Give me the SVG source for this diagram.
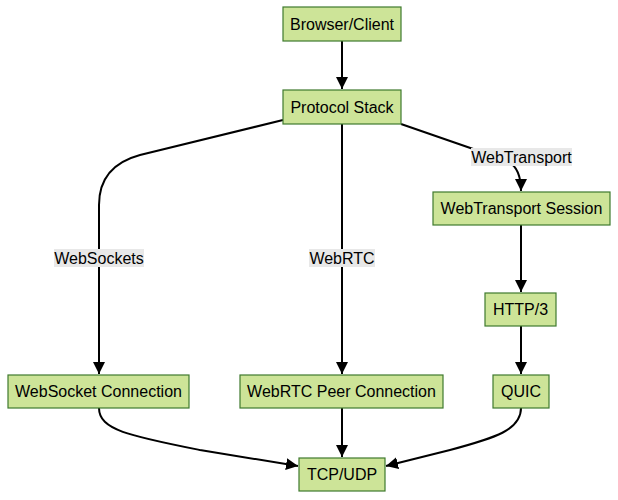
<svg xmlns="http://www.w3.org/2000/svg" width="618" height="500" viewBox="0 0 618 500">
<defs>
<marker id="arr" viewBox="0 0 10 10" refX="10" refY="5" markerWidth="12" markerHeight="12" markerUnits="userSpaceOnUse" orient="auto">
<path d="M0,0 L10,5 L0,10 z" fill="#000"/>
</marker>
<style>
.node rect{fill:#cde498;stroke:#3f7a2e;stroke-width:1.2}
.node text{font-family:"Liberation Sans",Arial,sans-serif;font-size:16px;fill:#000;text-anchor:middle;dominant-baseline:central}
.edge{fill:none;stroke:#000;stroke-width:2;marker-end:url(#arr)}
.lbl rect{fill:#e8e8e8}
.lbl text{font-family:"Liberation Sans",Arial,sans-serif;font-size:16px;fill:#000;text-anchor:middle;dominant-baseline:central}
</style>
</defs>
<rect width="618" height="500" fill="#fff"/>
<g id="connectors">
<path class="edge" d="M342,41 L342,89"/>
<path class="edge" d="M283,120 L140,155 Q99,166 99,205 L99,374"/>
<path class="edge" d="M342,124 L342,374"/>
<path class="edge" d="M401,124 L505,160 Q521,166 521,191"/>
<path class="edge" d="M521,225 L521,292"/>
<path class="edge" d="M521,326 L521,374"/>
<path class="edge" d="M99,408 C99,430 130,436 200,450 L298,466"/>
<path class="edge" d="M342,408 L342,457"/>
<path class="edge" d="M521,408 C521,430 495,438 450,450 L386,466"/>
<g class="lbl"><rect x="471" y="148" width="101" height="18"/><text x="521.5" y="157">WebTransport</text></g>
<g class="lbl"><rect x="54" y="249" width="90" height="18"/><text x="99" y="258">WebSockets</text></g>
<g class="lbl"><rect x="309" y="249" width="66" height="18"/><text x="342" y="258">WebRTC</text></g>
</g>
<g id="browser" class="node"><rect x="283" y="7" width="118" height="34"/><text x="342" y="24">Browser/Client</text></g>
<g id="stack" class="node"><rect x="283" y="90" width="118" height="34"/><text x="342" y="107">Protocol Stack</text></g>
<g id="wtsession" class="node"><rect x="433" y="192" width="177" height="33"/><text x="521.5" y="208.5">WebTransport Session</text></g>
<g id="http3" class="node"><rect x="485" y="293" width="71" height="33"/><text x="520.5" y="309.5">HTTP/3</text></g>
<g id="websocket" class="node"><rect x="8" y="375" width="181" height="33"/><text x="98.5" y="391.5">WebSocket Connection</text></g>
<g id="webrtc" class="node"><rect x="240" y="375" width="203" height="33"/><text x="341.5" y="391.5">WebRTC Peer Connection</text></g>
<g id="quic" class="node"><rect x="493" y="375" width="56" height="33"/><text x="521" y="391.5">QUIC</text></g>
<g id="tcpudp" class="node"><rect x="299" y="458" width="86" height="33"/><text x="342" y="474.5">TCP/UDP</text></g>
</svg>
